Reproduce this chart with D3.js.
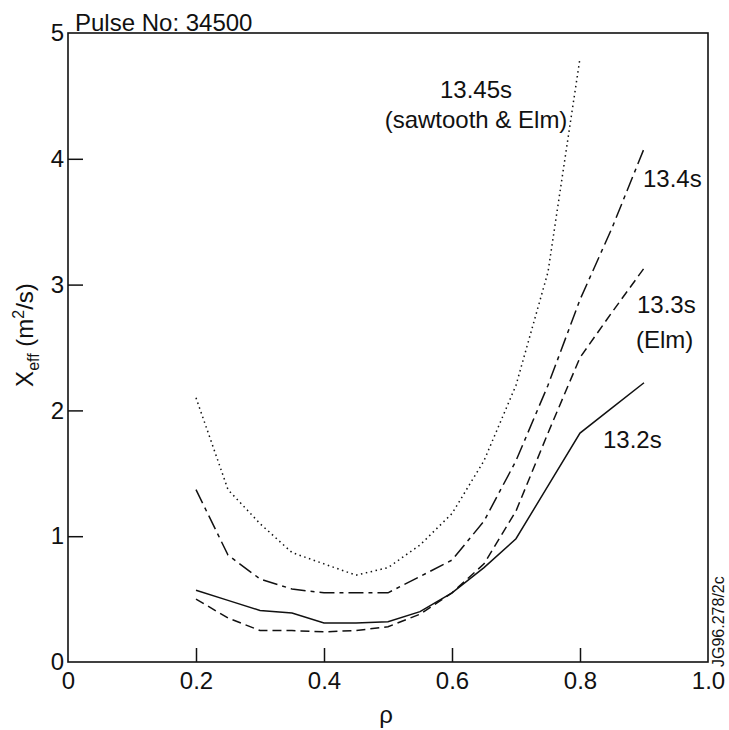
<!DOCTYPE html>
<html>
<head>
<meta charset="utf-8">
<script src="https://cdn.jsdelivr.net/npm/d3@7"></script>
<style>
  body { margin: 0; background: #fff; }
  svg text { font-family: "Liberation Sans", Arial, Helvetica, sans-serif; fill: #111; }
</style>
</head>
<body>
<svg id="chart" width="729" height="730"></svg>
<script>
// rho grid
const rho = [0.2, 0.25, 0.3, 0.35, 0.4, 0.45, 0.5, 0.55, 0.6, 0.65, 0.7, 0.75, 0.8, 0.85, 0.9];

// chi_eff values, one array per time slice
const t132 = [0.57, 0.49, 0.41, 0.39, 0.31, 0.31, 0.32, 0.40, 0.55, 0.75, 0.98, 1.40, 1.82, 2.02, 2.22];
const t133 = [0.50, 0.35, 0.25, 0.25, 0.24, 0.25, 0.28, 0.38, 0.55, 0.78, 1.20, 1.82, 2.42, 2.78, 3.13];
const t134 = [1.37, 0.85, 0.66, 0.58, 0.55, 0.55, 0.55, 0.68, 0.81, 1.12, 1.60, 2.20, 2.88, 3.45, 4.08];
const t1345 = [2.10, 1.37, 1.10, 0.87, 0.78, 0.69, 0.75, 0.93, 1.18, 1.60, 2.20, 3.10, 4.80];

const xTicks = [0, 0.2, 0.4, 0.6, 0.8, 1.0];
const yTicks = [0, 1, 2, 3, 4, 5];

const svg = d3.select('#chart');
const fs = 24;

//scales
const x = d3.scaleLinear().domain([0, 1]).range([68, 708]);
const y = d3.scaleLinear().domain([0, 5]).range([662, 33]);

//frame
svg.append('rect')
    .attr('x', x(0)).attr('y', y(5))
    .attr('width', x(1) - x(0)).attr('height', y(0) - y(5))
    .attr('fill', 'none').attr('stroke', '#111').attr('stroke-width', 1.6);

//axes with inward ticks
const xAxis = svg.append('g')
    .attr('transform', `translate(0,${y(0)})`)
    .call(d3.axisBottom(x).tickValues(xTicks).tickSizeInner(-14).tickSizeOuter(0).tickPadding(10)
        .tickFormat(d => d === 0 ? '0' : d3.format('.1f')(d)));
const yAxis = svg.append('g')
    .attr('transform', `translate(${x(0)},0)`)
    .call(d3.axisLeft(y).tickValues(yTicks).tickSizeInner(-15).tickSizeOuter(0).tickPadding(4)
        .tickFormat(d3.format('d')));

[xAxis, yAxis].forEach(g => {
    g.select('.domain').remove();
    g.selectAll('line').attr('stroke', '#111').attr('stroke-width', 1.5);
    g.selectAll('text').style('font-size', fs + 'px').attr('fill', '#111');
});
// no tick marks on the frame corners
xAxis.selectAll('.tick').filter(d => d === 0 || d === 1).select('line').remove();
yAxis.selectAll('.tick').filter(d => d === 0 || d === 5).select('line').remove();

//curves
const line = d3.line().x(d => x(d[0])).y(d => y(d[1]));
const series = [
    { vals: t132, dash: null },
    { vals: t133, dash: '9,5' },
    { vals: t134, dash: '15,5,4,5' },
    { vals: t1345, dash: '1.5,3.5' }
];
series.forEach(s => {
    svg.append('path')
        .datum(s.vals.map((v, i) => [rho[i], v]))
        .attr('d', line)
        .attr('fill', 'none')
        .attr('stroke', '#111')
        .attr('stroke-width', s.dash === '1.5,3.5' ? 1.5 : 1.5)
        .attr('stroke-dasharray', s.dash);
});

//annotations
function label(txt, px, py, anchor) {
    svg.append('text')
        .attr('x', px).attr('y', py)
        .attr('text-anchor', anchor || 'start')
        .style('font-size', fs + 'px')
        .text(txt);
}
label('Pulse No: 34500', 75, 31);
label('13.45s', 476, 98, 'middle');
label('(sawtooth & Elm)', 476, 128, 'middle');
label('13.4s', 643, 187);
label('13.3s', 637, 313);
label('(Elm)', 636, 348);
label('13.2s', 603, 448);

//axis titles
svg.append('text')
    .attr('x', (x(0) + x(1)) / 2 - 2).attr('y', 723)
    .attr('text-anchor', 'middle')
    .style('font-size', fs + 'px')
    .text('ρ');

const yl = svg.append('text')
    .attr('transform', 'translate(33,335) rotate(-90)')
    .attr('text-anchor', 'middle')
    .style('font-size', fs + 'px');
yl.append('tspan').text('X');
yl.append('tspan').attr('dy', 6).style('font-size', '16px').text('eff');
yl.append('tspan').attr('dy', -6).text(' (m');
yl.append('tspan').attr('dy', -9).style('font-size', '16px').text('2');
yl.append('tspan').attr('dy', 9).text('/s)');

//plate id
svg.append('text')
    .attr('transform', 'translate(724,667) rotate(-90)')
    .style('font-size', '16px')
    .text('JG96.278/2c');
</script>
</body>
</html>
